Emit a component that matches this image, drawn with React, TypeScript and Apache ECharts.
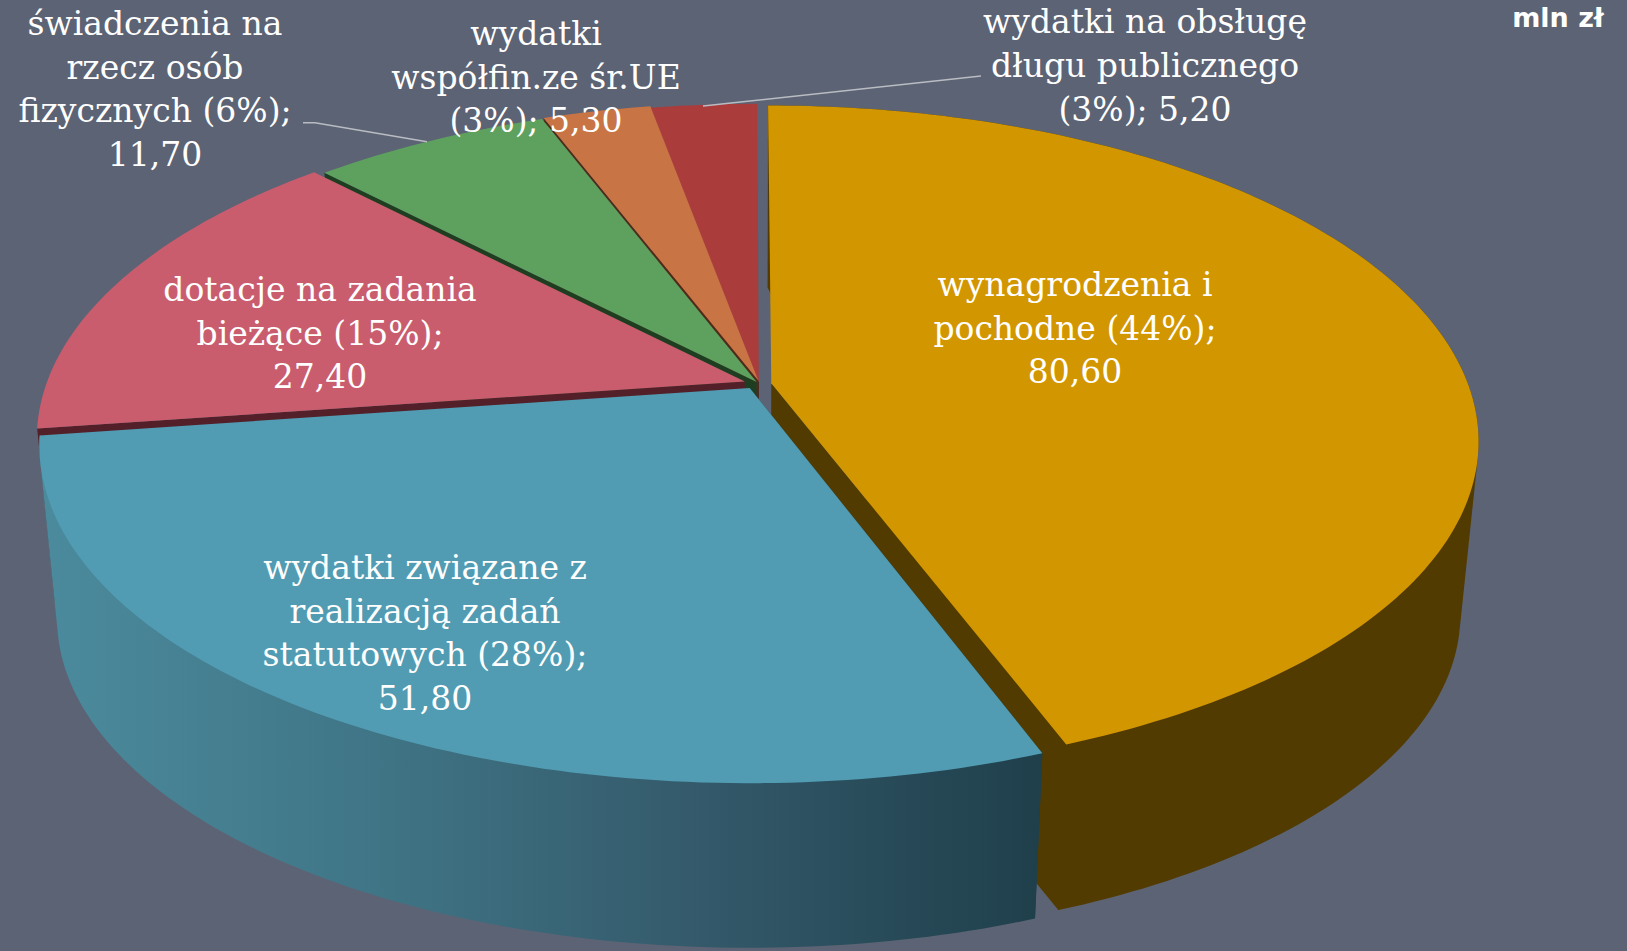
import React, { useEffect, useRef } from "react";
import * as echarts from "echarts";

const categories = [
  "wynagrodzenia i\npochodne",
  "wydatki związane z\nrealizacją zadań\nstatutowych",
  "dotacje na zadania\nbieżące",
  "świadczenia na\nrzecz osób\nfizycznych",
  "wydatki\nwspółfin.ze śr.UE",
  "wydatki na obsługę\ndługu publicznego",
];
const values = [80.6, 51.8, 27.4, 11.7, 5.3, 5.2];
const unit = "mln zł";

const beforePct = [" ", " ", " ", " ", "\n", "\n"];
const beforeValue = ["\n", "\n", "\n", "\n", " ", " "];

const topColors = ["#d29600", "#519cb2", "#c95d6e", "#5ea15f", "#c97444", "#ab3c3c"];
const cutColors = ["#523b00", "#1f3f4b", "#532029", "#1f3d20", "#4d2c1a", "#451818"];
const drawOrder = [4, 5, 3, 2, 1, 0];
const offsetX = [0.032, 0.001, -0.006, 0.011, 0.0135, 0.014];
const offsetY = [0.03, 0, 0.02, 0.018, 0.022, 0.016];
const offsetScreenY = [5, 0, 0, 0, 0, 0];
const hasOuterWall = [true, true, false, false, false, false];

const labelX = [1075, 425, 320, 155, 536, 1145];
const labelY = [328, 633, 333, 89, 77, 65.5];

const leaderLines = [
  [[303, 122.7], [315, 122.7], [427, 141.7]],
  [[703, 106], [981, 76]],
];

const CX = 749;
const CY = 388;
const RX = 700;
const RY = 328;
const K = 0.17;
const BOTTOM_CY = 562.5;
const BOTTOM_SCALE = 0.975;

const total = values.reduce((a, b) => a + b, 0);
const fmt = (v: number) => v.toFixed(2).replace(".", ",");
const labelTexts = categories.map(
  (c, i) =>
    `${c}${beforePct[i]}(${Math.round((values[i] / total) * 100)}%);${beforeValue[i]}${fmt(values[i])}`
);

function project(theta: number, i: number, bottom: boolean, apex = false): number[] {
  const s = apex ? 0 : Math.sin(theta);
  const c = apex ? 0 : Math.cos(theta);
  const ux = s + offsetX[i];
  const uy = c + offsetY[i];
  const w = 1 + K * uy;
  const sc = bottom ? BOTTOM_SCALE : 1;
  const cy = bottom ? BOTTOM_CY : CY;
  return [CX + (sc * RX * ux) / w, cy - (sc * RY * uy) / w + offsetScreenY[i]];
}

function arc(a0: number, a1: number, i: number, bottom: boolean): number[][] {
  const n = Math.max(8, Math.ceil(((a1 - a0) / Math.PI) * 180));
  const pts: number[][] = [];
  for (let j = 0; j <= n; j++) pts.push(project(a0 + ((a1 - a0) * j) / n, i, bottom));
  return pts;
}

// The wall is the area swept between the two rims: for these convex arcs, their hull.
function hull(points: number[][]): number[][] {
  const p = [...points].sort((a, b) => a[0] - b[0] || a[1] - b[1]);
  const cross = (o: number[], a: number[], b: number[]) =>
    (a[0] - o[0]) * (b[1] - o[1]) - (a[1] - o[1]) * (b[0] - o[0]);
  const half = (list: number[][]) => {
    const out: number[][] = [];
    for (const q of list) {
      while (out.length >= 2 && cross(out[out.length - 2], out[out.length - 1], q) <= 0) out.pop();
      out.push(q);
    }
    out.pop();
    return out;
  };
  return [...half(p), ...half([...p].reverse())];
}

function renderSlice(params: any, api: any) {
  const i = params.dataIndex;
  let before = 0;
  for (let j = 0; j < i; j++) before += values[j];
  const a0 = (before / total) * Math.PI * 2;
  const a1 = ((before + api.value(0)) / total) * Math.PI * 2;
  const z2 = drawOrder[i] * 10;
  const children: any[] = [];

  const cutAngle = (a0 + a1) / 2 < Math.PI ? a1 : a0;
  children.push({
    type: "polygon",
    z2,
    shape: {
      points: [
        project(0, i, false, true),
        project(cutAngle, i, false),
        project(cutAngle, i, true),
        project(0, i, true, true),
      ],
    },
    style: { fill: cutColors[i] },
  });

  if (hasOuterWall[i]) {
    const fill =
      i === 1
        ? {
            type: "linear",
            x: 0,
            y: 0,
            x2: 1,
            y2: 0,
            colorStops: [
              { offset: 0, color: "#4b8b9d" },
              { offset: 0.35, color: "#3f7485" },
              { offset: 0.65, color: "#345a6b" },
              { offset: 1, color: "#1f3f4b" },
            ],
          }
        : cutColors[i];
    children.push({
      type: "polygon",
      z2: z2 + 1,
      shape: { points: hull([...arc(a0, a1, i, false), ...arc(a0, a1, i, true)]) },
      style: { fill },
    });
  }

  children.push({
    type: "polygon",
    z2: z2 + 2,
    shape: { points: [project(0, i, false, true), ...arc(a0, a1, i, false)] },
    style: { fill: topColors[i] },
  });
  return { type: "group", children };
}

export default function App() {
  const ref = useRef<HTMLDivElement>(null);
  useEffect(() => {
    const chart = echarts.init(ref.current!, undefined, { renderer: "svg" });
    chart.setOption({
      animation: false,
      backgroundColor: "#5c6374",
      series: [
        {
          type: "custom",
          coordinateSystem: "none",
          renderItem: renderSlice,
          data: values.map((v, i) => ({ name: categories[i], value: [v] })),
          silent: true,
        },
      ],
      graphic: [
        ...leaderLines.map((pts) => ({
          type: "polyline",
          z: 50,
          shape: { points: pts },
          style: { stroke: "#b9bcc2", lineWidth: 1.5, fill: "none" },
        })),
        ...labelTexts.map((t, i) => ({
          type: "text",
          z: 60,
          x: labelX[i],
          y: labelY[i],
          style: {
            text: t,
            fill: "#ffffff",
            font: '33px "DejaVu Serif"',
            lineHeight: 43.6,
            align: "center",
            verticalAlign: "middle",
          },
        })),
        {
          type: "text",
          z: 60,
          x: 1558,
          y: 17,
          style: {
            text: unit,
            fill: "#ffffff",
            font: 'bold 27px "DejaVu Sans"',
            align: "center",
            verticalAlign: "middle",
          },
        },
      ],
    });
    return () => chart.dispose();
  }, []);
  return (
    <div
      ref={ref}
      style={{ position: "fixed", left: 0, top: 0, width: 1627, height: 951 }}
    />
  );
}
